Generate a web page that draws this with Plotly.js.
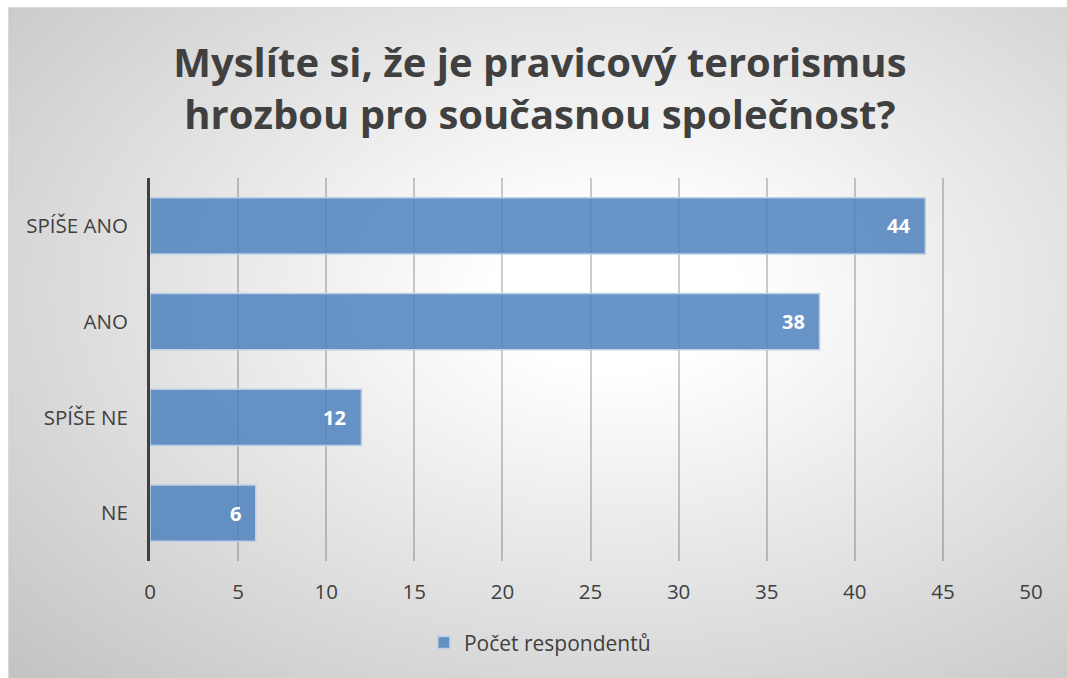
<!DOCTYPE html>
<html>
<head>
<meta charset="utf-8">
<script src="https://cdn.plot.ly/plotly-3.0.1.min.js"></script>
<style>
  html, body { margin: 0; padding: 0; background: #ffffff; }
  #wrap { position: relative; width: 1067px; height: 678px; overflow: hidden; }
  #bg { position: absolute; left: 8px; top: 7px; width: 1067px; height: 678px; box-sizing: border-box;
        border-top: 1px solid #d9d9d9; border-left: 1px solid #d9d9d9;
        background: radial-gradient(ellipse farthest-corner at 57% 42%, #ffffff 0%, #ffffff 14%, #c2c2c2 100%); }
  #chart { position: absolute; left: 0; top: 0; width: 1067px; height: 678px; }
</style>
</head>
<body>
<div id="wrap">
  <div id="bg"></div>
  <div id="chart"></div>
</div>
<script>
const categories = ['NE', 'SPÍŠE NE', 'ANO', 'SPÍŠE ANO'];
const values = [6, 12, 38, 44];
const seriesName = 'Počet respondentů';
const chartTitle = 'Myslíte si, že je pravicový terorismus<br>hrozbou pro současnou společnost?';
const xTicks = [0, 5, 10, 15, 20, 25, 30, 35, 40, 45, 50];

const textColor = '#404040';
const fontFamily = 'Open Sans, sans-serif';

const trace = {
  type: 'bar',
  orientation: 'h',
  name: seriesName,
  x: values,
  y: categories,
  marker: {
    color: 'rgba(79,129,189,0.85)',
    line: { color: 'rgba(188,207,230,1)', width: 1.5 }
  },
  textposition: 'none',
  hoverinfo: 'x+y',
  showlegend: true
};

const annotations = values.map((v, i) => ({
  x: v,
  y: categories[i],
  xref: 'x',
  yref: 'y',
  text: String(v),
  showarrow: false,
  xanchor: 'right',
  yanchor: 'middle',
  xshift: -13,
  font: { family: fontFamily, size: 20, color: '#ffffff', weight: 700 }
}));

const layout = {
  width: 1067,
  height: 678,
  margin: { l: 150, r: 36, t: 178, b: 117, pad: 0 },
  paper_bgcolor: 'rgba(0,0,0,0)',
  plot_bgcolor: 'rgba(0,0,0,0)',
  title: {
    text: chartTitle,
    font: { family: fontFamily, size: 40, color: textColor, weight: 700 },
    xref: 'container',
    x: 0.506,
    xanchor: 'center',
    yref: 'container',
    y: 0.887,
    yanchor: 'middle'
  },
  xaxis: {
    range: [0, 50],
    tickmode: 'array',
    tickvals: xTicks,
    ticktext: xTicks.map(String),
    showgrid: true,
    gridcolor: 'rgba(0,0,0,0.2)',
    gridwidth: 2,
    zeroline: false,
    showline: false,
    ticks: 'outside',
    ticklen: 12,
    tickcolor: 'rgba(0,0,0,0)',
    tickfont: { family: fontFamily, size: 20.5, color: textColor },
    fixedrange: true
  },
  yaxis: {
    type: 'category',
    categoryorder: 'array',
    categoryarray: categories,
    showgrid: false,
    zeroline: false,
    showline: true,
    linecolor: '#404040',
    linewidth: 3,
    ticks: 'outside',
    ticklen: 15,
    tickcolor: 'rgba(0,0,0,0)',
    tickfont: { family: fontFamily, size: 20.5, color: textColor },
    fixedrange: true
  },
  bargap: 0.414,
  showlegend: true,
  legend: {
    orientation: 'h',
    xref: 'container',
    x: 0.506,
    xanchor: 'center',
    yref: 'container',
    y: 0.052,
    yanchor: 'middle',
    font: { family: fontFamily, size: 21, color: textColor },
    bgcolor: 'rgba(0,0,0,0)'
  },
  annotations: annotations
};

Plotly.newPlot('chart', [trace], layout, { displayModeBar: false, staticPlot: true });
</script>
</body>
</html>
